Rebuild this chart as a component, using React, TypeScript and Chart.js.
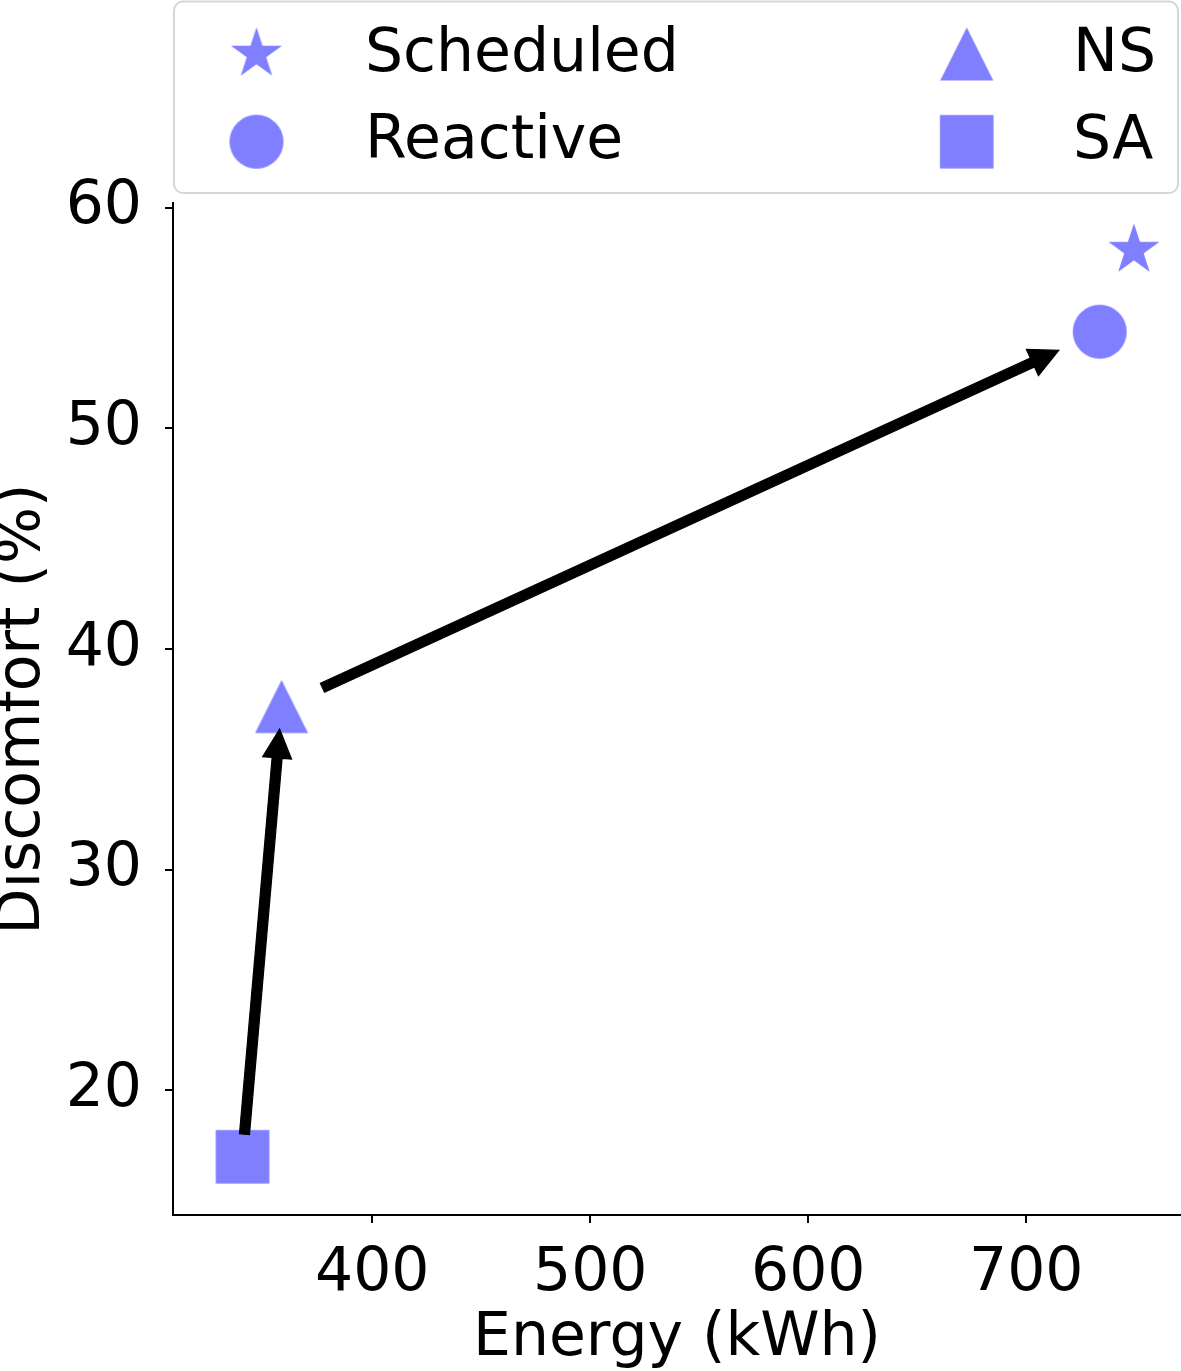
import React, { useEffect, useRef } from 'react';
import { Chart, registerables } from 'chart.js';

Chart.register(...registerables);

// ---- data ----
const seriesNames = ['Scheduled', 'Reactive', 'NS', 'SA'];
const seriesMarkers = ['star', 'circle', 'triangle', 'square'];
const energyKWh = [749.4, 733.7, 358.4, 340.5];
const discomfortPct = [58.08, 54.38, 37.39, 16.98];
const arrowFromSeries = ['SA', 'NS'];
const arrowToSeries = ['NS', 'Reactive'];
const xTickValues = [400, 500, 600, 700];
const yTickValues = [20, 30, 40, 50, 60];
const xAxisTitle = 'Energy (kWh)';
const yAxisTitle = 'Discomfort (%)';

// ---- style ----
const MARKER_COLOR = '#7f7fff';
const FONT = '"DejaVu Sans", sans-serif';
const W = 1181;
const H = 1371;

function makeMarker(shape: string): HTMLCanvasElement {
  const c = document.createElement('canvas');
  c.width = 64;
  c.height = 64;
  const ctx = c.getContext('2d')!;
  ctx.fillStyle = MARKER_COLOR;
  const cx = 32, cy = 32;
  ctx.beginPath();
  if (shape === 'star') {
    const R = 26.8, r = R * 0.381966;
    for (let i = 0; i < 10; i++) {
      const a = -Math.PI / 2 + (i * Math.PI) / 5;
      const rad = i % 2 === 0 ? R : r;
      const px = cx + rad * Math.cos(a), py = cy + rad * Math.sin(a);
      if (i === 0) ctx.moveTo(px, py); else ctx.lineTo(px, py);
    }
    ctx.closePath();
  } else if (shape === 'circle') {
    ctx.arc(cx, cy, 27, 0, Math.PI * 2);
  } else if (shape === 'triangle') {
    ctx.moveTo(cx, cy - 26.5);
    ctx.lineTo(cx + 26.5, cy + 26.5);
    ctx.lineTo(cx - 26.5, cy + 26.5);
    ctx.closePath();
  } else {
    ctx.rect(cx - 26.8, cy - 26.8, 53.6, 53.6);
  }
  ctx.fill();
  return c;
}

export default function App() {
  const canvasRef = useRef<HTMLCanvasElement | null>(null);

  useEffect(() => {
    document.body.style.margin = '0';
    const canvas = canvasRef.current!;
    const markers = seriesMarkers.map(makeMarker);

    const legendPlugin = {
      id: 'boxLegend',
      afterDraw(chart: any) {
        const ctx = chart.ctx as CanvasRenderingContext2D;
        ctx.save();
        ctx.beginPath();
        (ctx as any).roundRect(174, 1.5, 1004, 191.5, 9);
        ctx.fillStyle = '#ffffff';
        ctx.fill();
        ctx.strokeStyle = '#d6d6d6';
        ctx.lineWidth = 2;
        ctx.stroke();
        const colMarkerX = [256.5, 966.7];
        const colTextX = [365, 1073];
        const rowMarkerY = [54, 141.7];
        const rowBaseline = [70.8, 158.4];
        ctx.font = `60px ${FONT}`;
        ctx.fillStyle = '#000000';
        ctx.textAlign = 'left';
        ctx.textBaseline = 'alphabetic';
        seriesNames.forEach((name, i) => {
          const col = Math.floor(i / 2);
          const row = i % 2;
          const m = markers[i];
          ctx.drawImage(m, colMarkerX[col] - m.width / 2, rowMarkerY[row] - m.height / 2);
          ctx.fillText(name, colTextX[col], rowBaseline[row]);
        });
        ctx.restore();
      },
    };

    const arrowPlugin = {
      id: 'arrows',
      afterDatasetsDraw(chart: any) {
        const ctx = chart.ctx as CanvasRenderingContext2D;
        const xs = chart.scales.x;
        const ys = chart.scales.y;
        const shrink = 0.05;
        const shaftHalf = 5;
        const headHalf = 14.5;
        const headLen = 29;
        ctx.save();
        arrowFromSeries.forEach((fromName, k) => {
          const a = seriesNames.indexOf(fromName);
          const b = seriesNames.indexOf(arrowToSeries[k]);
          const x0 = xs.getPixelForValue(energyKWh[a]);
          const y0 = ys.getPixelForValue(discomfortPct[a]);
          const x1 = xs.getPixelForValue(energyKWh[b]);
          const y1 = ys.getPixelForValue(discomfortPct[b]);
          const dx = x1 - x0, dy = y1 - y0;
          const sx = x0 + dx * shrink, sy = y0 + dy * shrink;
          const ex = x1 - dx * shrink, ey = y1 - dy * shrink;
          const len = Math.hypot(ex - sx, ey - sy);
          const ux = (ex - sx) / len, uy = (ey - sy) / len;
          const nx = -uy, ny = ux;
          const bx = ex - ux * headLen, by = ey - uy * headLen;
          ctx.beginPath();
          ctx.moveTo(sx + nx * shaftHalf, sy + ny * shaftHalf);
          ctx.lineTo(bx + nx * shaftHalf, by + ny * shaftHalf);
          ctx.lineTo(bx + nx * headHalf, by + ny * headHalf);
          ctx.lineTo(ex, ey);
          ctx.lineTo(bx - nx * headHalf, by - ny * headHalf);
          ctx.lineTo(bx - nx * shaftHalf, by - ny * shaftHalf);
          ctx.lineTo(sx - nx * shaftHalf, sy - ny * shaftHalf);
          ctx.closePath();
          ctx.fillStyle = '#000000';
          ctx.fill();
          ctx.strokeStyle = '#000000';
          ctx.lineWidth = 1.2;
          ctx.lineJoin = 'miter';
          ctx.stroke();
        });
        ctx.restore();
      },
    };

    const chart = new Chart(canvas, {
      type: 'scatter',
      data: {
        datasets: seriesNames.map((name, i) => ({
          label: name,
          data: [{ x: energyKWh[i], y: discomfortPct[i] }],
          pointStyle: markers[i],
          backgroundColor: MARKER_COLOR,
          borderColor: MARKER_COLOR,
        })),
      },
      options: {
        animation: false,
        responsive: false,
        events: [],
        layout: { padding: { top: 203.3, left: 0, right: 0, bottom: 0 }, autoPadding: false },
        plugins: {
          legend: { display: false },
          tooltip: { enabled: false },
        },
        scales: {
          x: {
            type: 'linear',
            min: 308.6,
            max: 771,
            afterBuildTicks: (s: any) => {
              s.ticks = xTickValues.map((v) => ({ value: v }));
            },
            afterFit: (s: any) => {
              s.height = H - 1215;
            },
            grid: {
              drawOnChartArea: false,
              drawTicks: true,
              tickLength: 8,
              color: '#000000',
              lineWidth: 2,
            },
            border: { display: true, color: '#000000', width: 2 },
            ticks: {
              color: '#000000',
              font: { family: FONT, size: 60 },
              padding: 15.5,
              maxRotation: 0,
              callback: (v: any) => String(v),
            },
            title: {
              display: true,
              text: xAxisTitle,
              color: '#000000',
              font: { family: FONT, size: 60, lineHeight: 0.77 },
              padding: { top: 0, bottom: 8.4 },
            },
          },
          y: {
            type: 'linear',
            min: 14.34,
            max: 60.2,
            afterBuildTicks: (s: any) => {
              s.ticks = yTickValues.map((v) => ({ value: v }));
            },
            afterFit: (s: any) => {
              s.width = 173;
            },
            grid: {
              drawOnChartArea: false,
              drawTicks: true,
              tickLength: 8,
              color: '#000000',
              lineWidth: 2,
            },
            border: { display: true, color: '#000000', width: 2 },
            ticks: {
              color: '#000000',
              font: { family: FONT, size: 60 },
              padding: 23,
              callback: (v: any) => String(v),
            },
            title: {
              display: true,
              text: yAxisTitle,
              color: '#000000',
              font: { family: FONT, size: 60, lineHeight: 0.77 },
              padding: { top: 0, bottom: 0 },
            },
          },
        },
      },
      plugins: [arrowPlugin, legendPlugin],
    } as any);

    return () => {
      chart.destroy();
    };
  }, []);

  return (
    <div style={{ width: W, height: H, background: '#ffffff' }}>
      <canvas ref={canvasRef} width={W} height={H} style={{ display: 'block', width: W, height: H }} />
    </div>
  );
}
